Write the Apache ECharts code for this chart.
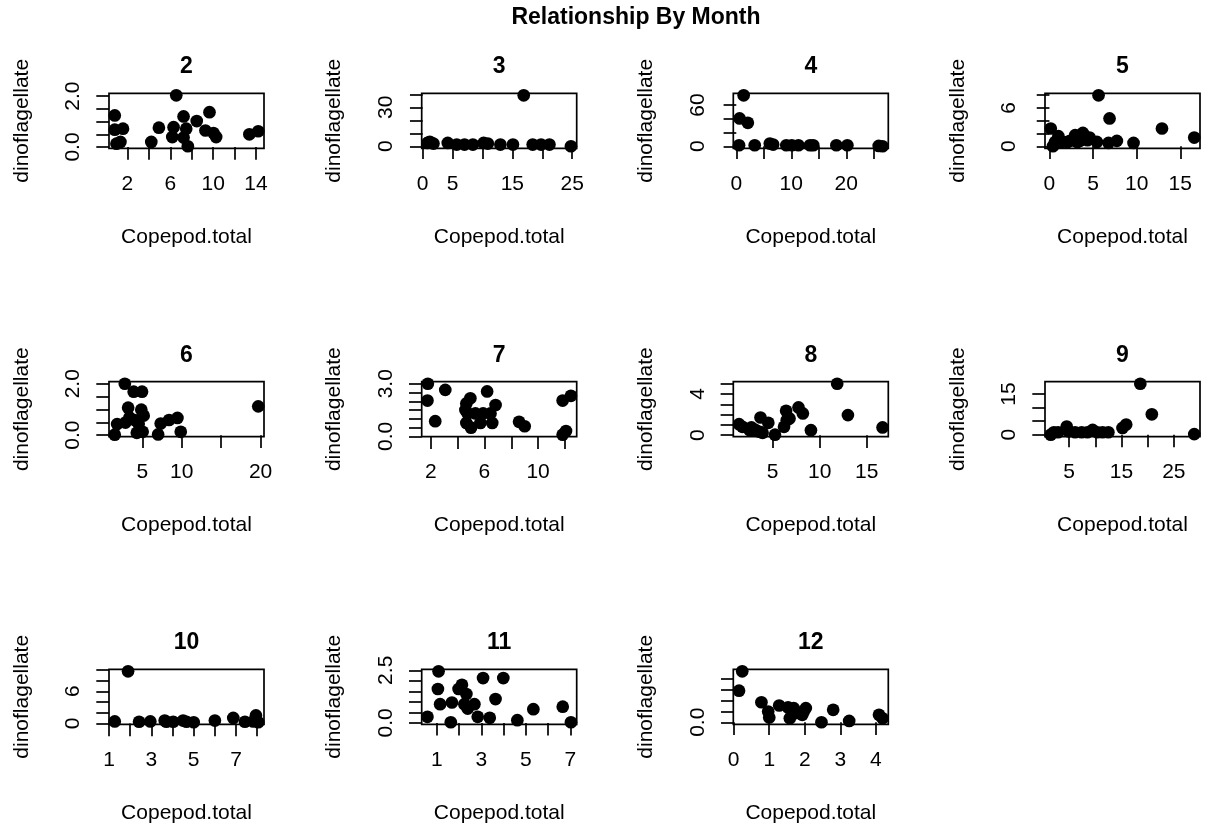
<!DOCTYPE html>
<html><head><meta charset="utf-8">
<script src="https://cdn.jsdelivr.net/npm/echarts@6/dist/echarts.min.js"></script>
<style>html,body{margin:0;padding:0;background:#fff}#c{width:1212px;height:826px}</style>
</head><body><div id="c"></div>
<script>
// ---- data ----
const mainTitle = "Relationship By Month";
const months = ["2","3","4","5","6","7","8","9","10","11","12"];
const xName = "Copepod.total";
const yName = "dinoflagellate";

const copepod2 = [0.82,0.82,1.59,0.98,1.35,4.23,4.94,6.56,6.31,6.19,7.24,7.49,7.24,7.64,8.47,9.66,9.28,10.03,10.28,13.38,14.21];
const dino2    = [1.24,0.68,0.72,0.13,0.2,0.2,0.76,2.03,0.78,0.39,1.2,0.72,0.37,0.03,1.02,1.37,0.65,0.55,0.39,0.5,0.62];
const copepod3 = [0.8,1.2,1.8,4.2,5.7,7.0,8.4,10.2,10.9,13.0,15.1,16.9,18.4,19.8,21.2,24.8];
const dino3    = [2.6,3.4,2.1,2.6,1.3,1.3,1.3,2.6,2.1,1.3,1.3,39.2,1.3,1.3,1.3,0];
const copepod4 = [1.34,0.6,2.1,0.5,3.35,6.1,6.7,9.1,10.1,11.3,13.4,14.0,18.2,20.2,25.9,26.6];
const dino4    = [74,40.5,34.1,1.5,1.5,3.9,2.4,1.5,1.5,1.5,1.5,1.5,1.5,1.5,0.5,0];
const copepod5 = [0.15,0.4,0.65,1.03,1.4,2.07,2.37,2.95,3.2,3.5,3.83,4.1,4.36,4.6,5.44,5.63,6.77,6.89,7.73,9.64,12.9,16.6];
const dino5    = [2.77,0,0.68,1.57,0.68,0.68,0.84,1.73,0.68,0.84,2.09,1.47,0.94,1.36,0.68,7.95,0.52,4.35,0.84,0.52,2.77,1.36];
const copepod6 = [2.78,1.8,1.5,2.86,3.2,3.37,3.9,4.96,4.03,4.3,4.87,5.17,5.04,4.53,7.0,7.33,8.39,9.45,9.87,19.7];
const dino6    = [2.0,0.43,0.02,0.49,1.07,0.69,1.69,1.69,0.59,0.09,0.99,0.76,0.13,0.43,0.03,0.45,0.59,0.67,0.13,1.12];
const copepod7 = [1.78,1.75,2.33,3.08,4.65,4.95,4.58,4.75,4.65,5.0,5.33,5.7,5.9,6.2,6.45,6.58,6.83,8.58,9.0,11.83,12.45,11.83,12.08];
const dino7    = [3.0,2.04,0.87,2.65,1.88,2.17,1.5,1.31,0.77,0.5,1.31,0.77,1.31,2.56,1.31,0.77,1.79,0.83,0.58,2.04,2.31,0.1,0.31];
const copepod8 = [1.43,1.79,2.75,2.57,3.1,3.29,3.71,3.64,4.54,3.93,5.25,6.21,6.5,6.79,6.43,7.75,8.21,9.07,11.86,13.0,16.68];
const dino8    = [1.07,0.81,0.75,0.49,0.55,0.42,1.72,0.33,1.2,0.23,0.05,0.81,1.46,1.63,2.37,2.7,2.11,0.49,5.0,1.95,0.75];
const copepod9 = [1.5,2.1,2.9,4.55,4.9,6.15,7.4,8.5,9.5,10.4,11.4,12.5,15.2,15.9,18.6,20.8,28.9];
const dino9    = [0,0.9,0.9,3.0,1.25,0.9,0.9,0.9,1.75,0.9,0.9,0.9,2.5,3.75,18.8,7.5,0.2];
const copepod10 = [1.27,1.9,2.42,2.95,3.63,3.71,4.03,4.5,4.66,5.0,6.0,6.87,7.42,7.81,7.94,8.05];
const dino10    = [0.38,9.72,0.32,0.38,0.54,0.32,0.32,0.54,0.32,0.22,0.54,1.02,0.32,0.38,1.5,0.22];
const copepod11 = [0.58,1.08,1.05,1.15,1.63,1.68,1.98,2.13,2.33,2.24,2.39,2.69,2.84,3.08,3.38,3.64,3.99,4.62,5.34,6.66,7.03];
const dino11    = [0.29,2.45,1.61,0.89,0.03,0.97,1.61,1.81,1.37,0.89,0.68,0.89,0.29,2.13,0.24,1.13,2.13,0.13,0.65,0.77,0.03];
const copepod12 = [0.24,0.15,0.78,0.97,1.0,1.28,1.53,1.58,1.69,1.75,1.93,2.03,1.97,2.47,2.8,3.25,4.09,4.19];
const dino12    = [2.34,1.45,0.92,0.49,0.22,0.77,0.68,0.18,0.65,0.42,0.34,0.65,0.49,0,0.57,0.06,0.34,0.18];

// tick marks and tick labels (labels R kept after overlap removal)
const xTicks2 = [2,4,6,8,10,12,14];      const xLabels2 = ["2","6","10","14"];
const yTicks2 = [0,0.5,1,1.5,2];         const yLabels2 = ["0.0","2.0"];
const xTicks3 = [0,5,10,15,20,25];       const xLabels3 = ["0","5","15","25"];
const yTicks3 = [0,10,20,30,40];         const yLabels3 = ["0","30"];
const xTicks4 = [0,5,10,15,20,25];       const xLabels4 = ["0","10","20"];
const yTicks4 = [0,20,40,60];            const yLabels4 = ["0","60"];
const xTicks5 = [0,5,10,15];             const xLabels5 = ["0","5","10","15"];
const yTicks5 = [0,2,4,6,8];             const yLabels5 = ["0","6"];
const xTicks6 = [5,10,15,20];            const xLabels6 = ["5","10","20"];
const yTicks6 = [0,0.5,1,1.5,2];         const yLabels6 = ["0.0","2.0"];
const xTicks7 = [2,4,6,8,10,12];         const xLabels7 = ["2","6","10"];
const yTicks7 = [0,0.5,1,1.5,2,2.5,3];   const yLabels7 = ["0.0","3.0"];
const xTicks8 = [5,10,15];               const xLabels8 = ["5","10","15"];
const yTicks8 = [0,1,2,3,4,5];           const yLabels8 = ["0","4"];
const xTicks9 = [5,10,15,20,25];         const xLabels9 = ["5","15","25"];
const yTicks9 = [0,5,10,15];             const yLabels9 = ["0","15"];
const xTicks10 = [1,2,3,4,5,6,7,8];      const xLabels10 = ["1","3","5","7"];
const yTicks10 = [0,2,4,6,8,10];         const yLabels10 = ["0","6"];
const xTicks11 = [1,2,3,4,5,6,7];        const xLabels11 = ["1","3","5","7"];
const yTicks11 = [0,0.5,1,1.5,2,2.5];    const yLabels11 = ["0.0","2.5"];
const xTicks12 = [0,1,2,3,4];            const xLabels12 = ["0","1","2","3","4"];
const yTicks12 = [0,0.5,1,1.5,2];        const yLabels12 = ["0.0"];

// ---- assembly ----
const xs = [copepod2,copepod3,copepod4,copepod5,copepod6,copepod7,copepod8,copepod9,copepod10,copepod11,copepod12];
const ys = [dino2,dino3,dino4,dino5,dino6,dino7,dino8,dino9,dino10,dino11,dino12];
const xts = [xTicks2,xTicks3,xTicks4,xTicks5,xTicks6,xTicks7,xTicks8,xTicks9,xTicks10,xTicks11,xTicks12];
const xls = [xLabels2,xLabels3,xLabels4,xLabels5,xLabels6,xLabels7,xLabels8,xLabels9,xLabels10,xLabels11,xLabels12];
const yts = [yTicks2,yTicks3,yTicks4,yTicks5,yTicks6,yTicks7,yTicks8,yTicks9,yTicks10,yTicks11,yTicks12];
const yls = [yLabels2,yLabels3,yLabels4,yLabels5,yLabels6,yLabels7,yLabels8,yLabels9,yLabels10,yLabels11,yLabels12];

const FONT = "Liberation Sans, Arial, sans-serif";
const colLeft = [109, 421.7, 733.3, 1045];
const rowTop = [93.3, 381.7, 669.3];
const PW = 155, PH = 55;
const AXFS = 21, TFS = 23;

function rRange(a){ const mn=Math.min(...a), mx=Math.max(...a), d=(mx-mn)*0.04; return [mn-d, mx+d]; }
function fmt(labels){ return v => { const s = labels.find(t => Math.abs(Number(t)-v) < 1e-9); return s === undefined ? '' : s; }; }

const grids=[], xAxes=[], yAxes=[], series=[];
const titles=[{text:mainTitle, left:636, top:6, textAlign:'center', padding:0,
  textStyle:{fontFamily:FONT, fontSize:TFS, fontWeight:'bold', color:'#000'}}];

months.forEach((m,i)=>{
  const r = Math.floor(i/4), c = i%4;
  const L = colLeft[c], T = rowTop[r];
  grids.push({left:L, top:T, width:PW, height:PH, show:true, borderColor:'#000', borderWidth:1.7, backgroundColor:'transparent'});
  titles.push({text:m, left:L+PW/2, top:T-38, textAlign:'center', padding:0,
    textStyle:{fontFamily:FONT, fontSize:TFS, fontWeight:'bold', color:'#000'}});
  const xr = rRange(xs[i]), yr = rRange(ys[i]);
  xAxes.push({type:'value', gridIndex:i, min:xr[0], max:xr[1],
    name:xName, nameLocation:'middle', nameGap:78,
    nameTextStyle:{fontFamily:FONT, fontSize:AXFS, color:'#000'},
    axisLine:{show:false}, splitLine:{show:false},
    axisTick:{show:true, customValues:xts[i], length:12.7, lineStyle:{color:'#000', width:1.7}},
    axisLabel:{show:true, customValues:xls[i].map(Number), margin:25, fontFamily:FONT, fontSize:AXFS, color:'#000', formatter:fmt(xls[i]), hideOverlap:false}
  });
  yAxes.push({type:'value', gridIndex:i, min:yr[0], max:yr[1],
    name:yName, nameLocation:'middle', nameGap:76.5,
    nameTextStyle:{fontFamily:FONT, fontSize:AXFS, color:'#000'},
    axisLine:{show:false}, splitLine:{show:false},
    axisTick:{show:true, customValues:yts[i], length:12.7, lineStyle:{color:'#000', width:1.7}},
    axisLabel:{show:true, rotate:90, customValues:yls[i].map(Number), margin:25, fontFamily:FONT, fontSize:AXFS, color:'#000', formatter:fmt(yls[i]), hideOverlap:false}
  });
  series.push({type:'scatter', xAxisIndex:i, yAxisIndex:i, clip:true, symbol:'circle', symbolSize:12.7,
    itemStyle:{color:'#000', opacity:1}, silent:true,
    data: xs[i].map((x,k)=>[x, ys[i][k]])});
});

const chart = echarts.init(document.getElementById('c'), null, {renderer:'canvas'});
chart.setOption({animation:false, backgroundColor:'#fff', title:titles, grid:grids, xAxis:xAxes, yAxis:yAxes, series:series});
</script></body></html>
